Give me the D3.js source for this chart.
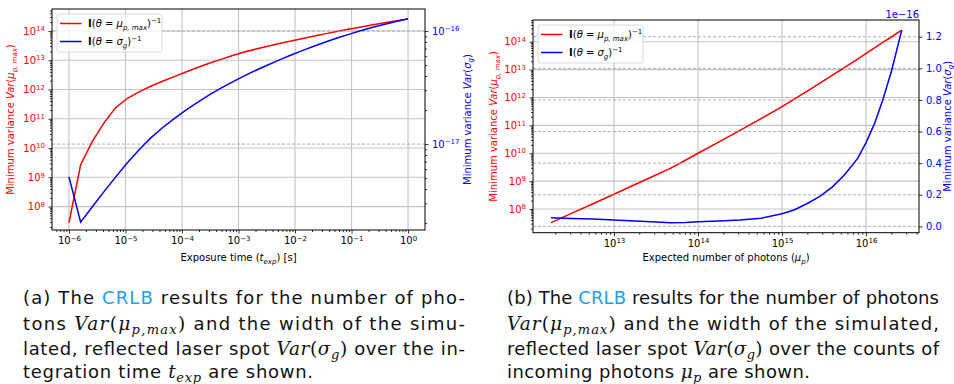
<!DOCTYPE html>
<html>
<head>
<meta charset="utf-8">
<style>
  body { margin: 0; background: #fff; }
  svg { display: block; font-family: "DejaVu Sans", sans-serif; }
  .domain { display: none; }
  .tick line { stroke: #000; stroke-width: 0.8; }
</style>
</head>
<body>
<svg width="954" height="384"></svg>

<script src="https://d3js.org/d3.v7.min.js"></script>
<script>

// ---- (a) sweep over the exposure time ----
const expTime = [1.000e-6, 1.610e-6, 2.593e-6, 4.175e-6, 6.723e-6, 1.083e-5, 1.743e-5, 2.807e-5,
  4.520e-5, 7.279e-5, 1.172e-4, 1.887e-4, 3.039e-4, 4.894e-4, 7.880e-4, 1.269e-3, 2.043e-3,
  3.290e-3, 5.298e-3, 8.532e-3, 1.374e-2, 2.212e-2, 3.562e-2, 5.736e-2, 9.237e-2, 0.1487,
  0.2395, 0.3857, 0.6210, 1.0];
const varMuTime = [2.82e7, 2.69e9, 1.70e10, 7.24e10, 2.40e11, 5.01e11, 8.32e11, 1.29e12,
  1.905e12, 2.75e12, 3.98e12, 5.62e12, 7.85e12, 1.07e13, 1.445e13, 1.905e13, 2.40e13, 3.00e13,
  3.715e13, 4.56e13, 5.56e13, 6.73e13, 8.11e13, 9.70e13, 1.156e14, 1.371e14, 1.618e14, 1.901e14,
  2.223e14, 2.588e14];
const varSigmaTime = [5.13e-18, 2.04e-18, 2.79e-18, 3.80e-18, 5.13e-18, 6.84e-18, 8.91e-18,
  1.135e-17, 1.396e-17, 1.679e-17, 1.995e-17, 2.344e-17, 2.723e-17, 3.126e-17, 3.548e-17,
  4.009e-17, 4.498e-17, 5.012e-17, 5.559e-17, 6.138e-17, 6.745e-17, 7.379e-17, 8.035e-17,
  8.710e-17, 9.397e-17, 1.0093e-16, 1.0789e-16, 1.148e-16, 1.216e-16, 1.282e-16];

// ---- (b) sweep over the number of photons ----
const photons = [1.78e12, 3.16e12, 5.62e12, 1e13, 1.78e13, 3.16e13, 4.68e13, 7.08e13, 1e14,
  1.78e14, 3.16e14, 5.62e14, 1e15, 1.41e15, 2.0e15, 2.82e15, 3.98e15, 5.62e15, 7.94e15, 1e16,
  1.26e16, 1.58e16, 2.0e16, 2.66e16];
const varMuPhot = [3.24e7, 7.08e7, 1.55e8, 3.39e8, 7.59e8, 1.66e9, 2.88e9, 5.62e9, 1.0e10,
  2.57e10, 6.61e10, 1.74e11, 4.68e11, 8.91e11, 1.70e12, 3.31e12, 6.31e12, 1.23e13, 2.40e13,
  3.80e13, 6.03e13, 9.55e13, 1.48e14, 2.63e14];
const varSigmaPhot = [5.4e-18, 5.0e-18, 4.6e-18, 4.0e-18, 3.4e-18, 2.8e-18, 2.3e-18, 2.5e-18,
  2.9e-18, 3.4e-18, 4.0e-18, 5.2e-18, 8.0e-18, 1.05e-17, 1.45e-17, 1.9e-17, 2.5e-17, 3.3e-17,
  4.3e-17, 5.3e-17, 6.5e-17, 8.0e-17, 9.8e-17, 1.242e-16];

// tick values
const timeTicks = [1e-6, 1e-5, 1e-4, 1e-3, 1e-2, 1e-1, 1];
const muTicks = [1e8, 1e9, 1e10, 1e11, 1e12, 1e13, 1e14];
const sigmaTimeTicks = [1e-17, 1e-16];
const photonTicks = [1e13, 1e14, 1e15, 1e16];
const sigmaPhotTicks = [0, 0.2e-16, 0.4e-16, 0.6e-16, 0.8e-16, 1.0e-16, 1.2e-16];

const svg = d3.select("svg");
const RED = "#ff0000", BLUE = "#0000ff";

// minor ticks 2..9 x 10^k inside a log domain
function logMinors(scale) {
  const [a, b] = scale.domain();
  const out = [];
  for (let k = Math.floor(Math.log10(a)); k <= Math.ceil(Math.log10(b)); k++) {
    for (let m = 2; m <= 9; m++) {
      const v = m * Math.pow(10, k);
      if (v >= a && v <= b) out.push(v);
    }
  }
  return out;
}

// "10" with a raised exponent
function powLabels(sel) {
  sel.each(function (d) {
    const t = d3.select(this);
    const e = Math.round(Math.log10(d));
    t.text(null);
    t.append("tspan").text("10");
    t.append("tspan").attr("dy", "-0.5em").attr("font-size", "7px")
      .text(String(e).replace("-", "\u2212"));
  });
}

// text made of pieces (sub/superscripts, italics, colours)
function rich(sel, segs) {
  let shift = 0;
  segs.forEach(s => {
    const ts = sel.append("tspan").text(s.t);
    const target = s.dy || 0;
    if (target !== shift) { ts.attr("dy", target - shift); shift = target; }
    if (s.size) ts.attr("font-size", s.size);
    if (s.it) ts.attr("font-style", "italic");
    if (s.bold) ts.attr("font-weight", "bold");
    if (s.fill) ts.attr("fill", s.fill);
    if (s.fam) ts.attr("font-family", s.fam);
  });
  return sel;
}

function axisStyle(g, color) {
  g.attr("font-family", "DejaVu Sans").attr("font-size", 10);
  g.selectAll("text").attr("fill", color);
}

function varMuLabel() {
  return [{ t: "Minimum variance " }, { t: "Var", it: true }, { t: "(" }, { t: "μ", it: true },
    { t: "p, max", it: true, size: "7px", dy: 2.5 }, { t: ")" }];
}
function varSigLabel() {
  return [{ t: "Minimum variance " }, { t: "Var", it: true }, { t: "(" }, { t: "σ", it: true },
    { t: "g", it: true, size: "7px", dy: 2.5 }, { t: ")" }];
}

function panel(p) {
  const g = svg.append("g");
  const { x, yL, yR, box } = p;

  // grid: solid for the left axis, dashed for the twin axis
  g.append("g").selectAll("line").data(p.xTicks).join("line")
    .attr("x1", d => x(d)).attr("x2", d => x(d)).attr("y1", box.y0).attr("y2", box.y1)
    .attr("stroke", "#c4c4c4").attr("stroke-width", 1.1);
  g.append("g").selectAll("line").data(p.yLTicks).join("line")
    .attr("x1", box.x0).attr("x2", box.x1).attr("y1", d => yL(d)).attr("y2", d => yL(d))
    .attr("stroke", "#c4c4c4").attr("stroke-width", 1.1);

  g.append("path").datum(p.xs.map((d, i) => [d, p.red[i]]))
    .attr("fill", "none").attr("stroke", RED).attr("stroke-width", 1.5)
    .attr("d", d3.line().x(d => x(d[0])).y(d => yL(d[1])));

  g.append("g").selectAll("line").data(p.yRTicks).join("line")
    .attr("x1", box.x0).attr("x2", box.x1).attr("y1", d => yR(d)).attr("y2", d => yR(d))
    .attr("stroke", "#a8a8a8").attr("stroke-width", 0.9).attr("stroke-dasharray", "3,2");

  g.append("path").datum(p.xs.map((d, i) => [d, p.blue[i]]))
    .attr("fill", "none").attr("stroke", BLUE).attr("stroke-width", 1.5)
    .attr("d", d3.line().x(d => x(d[0])).y(d => yR(d[1])));

  // frame
  g.append("rect").attr("x", box.x0).attr("y", box.y0)
    .attr("width", box.x1 - box.x0).attr("height", box.y1 - box.y0)
    .attr("fill", "none").attr("stroke", "#000").attr("stroke-width", 1);

  // bottom axis
  const bx = g.append("g").attr("transform", `translate(0,${box.y1})`)
    .call(d3.axisBottom(x).tickValues(p.xTicks).tickSize(3.5).tickPadding(3.5));
  axisStyle(bx, "#000");
  powLabels(bx.selectAll("text"));
  g.append("g").attr("transform", `translate(0,${box.y1})`)
    .call(d3.axisBottom(x).tickValues(logMinors(x)).tickSize(2).tickFormat(""));

  // left axis (red)
  const lx = g.append("g").attr("transform", `translate(${box.x0},0)`)
    .call(d3.axisLeft(yL).tickValues(p.yLTicks).tickSize(3.5).tickPadding(3.5));
  axisStyle(lx, RED);
  powLabels(lx.selectAll("text"));
  g.append("g").attr("transform", `translate(${box.x0},0)`)
    .call(d3.axisLeft(yL).tickValues(logMinors(yL)).tickSize(2).tickFormat(""));

  // right axis (blue)
  const rAxis = d3.axisRight(yR).tickValues(p.yRTicks).tickSize(3.5).tickPadding(3.5);
  if (p.rightLinear) rAxis.tickFormat(d => d3.format(".1f")(d / 1e-16));
  const rx = g.append("g").attr("transform", `translate(${box.x1},0)`).call(rAxis);
  axisStyle(rx, BLUE);
  if (!p.rightLinear) {
    powLabels(rx.selectAll("text"));
    g.append("g").attr("transform", `translate(${box.x1},0)`)
      .call(d3.axisRight(yR).tickValues(logMinors(yR)).tickSize(2).tickFormat(""));
  } else {
    g.append("text").attr("x", box.x1).attr("y", box.y0 - 2.5).attr("text-anchor", "end")
      .attr("font-size", 10).attr("fill", BLUE).text("1e\u221216");
  }

  // axis titles
  const cy = (box.y0 + box.y1) / 2;
  rich(g.append("text").attr("font-size", 10).attr("text-anchor", "middle")
    .attr("x", (box.x0 + box.x1) / 2).attr("y", 261), p.xTitle);
  rich(g.append("text").attr("font-size", 10).attr("text-anchor", "middle").attr("fill", RED)
    .attr("transform", `translate(${p.lTitleX},${cy}) rotate(-90)`), varMuLabel());
  rich(g.append("text").attr("font-size", 10).attr("text-anchor", "middle").attr("fill", BLUE)
    .attr("transform", `translate(${p.rTitleX},${cy}) rotate(-90)`), varSigLabel());

  // legend
  const lg = g.append("g").attr("transform", `translate(${p.leg[0]},${p.leg[1]})`);
  lg.append("rect").attr("width", 105).attr("height", 38).attr("rx", 2)
    .attr("fill", "#fff").attr("fill-opacity", 0.85).attr("stroke", "#d0d0d0").attr("stroke-width", 0.8);
  const items = [
    { c: RED, s: [{ t: "I", bold: true }, { t: "(" }, { t: "θ", it: true }, { t: " = " }, { t: "μ", it: true },
      { t: "p, max", it: true, size: "7px", dy: 2.5 }, { t: ")" }, { t: "\u22121", size: "7px", dy: -4 }] },
    { c: BLUE, s: [{ t: "I", bold: true }, { t: "(" }, { t: "θ", it: true }, { t: " = " }, { t: "σ", it: true },
      { t: "g", it: true, size: "7px", dy: 2.5 }, { t: ")" }, { t: "\u22121", size: "7px", dy: -4 }] }
  ];
  items.forEach((it, i) => {
    const yy = 9.5 + i * 18;
    lg.append("line").attr("x1", 3).attr("x2", 24.5).attr("y1", yy).attr("y2", yy)
      .attr("stroke", it.c).attr("stroke-width", 1.5);
    rich(lg.append("text").attr("x", 31).attr("y", yy + 3.5).attr("font-size", 10), it.s);
  });
}

// ---------- panel (a) ----------
const boxA = { x0: 52, x1: 425, y0: 9, y1: 230 };
panel({
  box: boxA,
  x: d3.scaleLog().domain([Math.pow(10, -6.3), Math.pow(10, 0.3)]).range([boxA.x0, boxA.x1]),
  yL: d3.scaleLog().domain([Math.pow(10, 7.2), Math.pow(10, 14.75)]).range([boxA.y1, boxA.y0]),
  yR: d3.scaleLog().domain([Math.pow(10, -17.76), Math.pow(10, -15.805)]).range([boxA.y1, boxA.y0]),
  xs: expTime, red: varMuTime, blue: varSigmaTime,
  xTicks: timeTicks, yLTicks: muTicks, yRTicks: sigmaTimeTicks,
  xTitle: [{ t: "Exposure time (" }, { t: "t", it: true }, { t: "exp", it: true, size: "7px", dy: 2.5 }, { t: ") [s]" }],
  lTitleX: 14, rTitleX: 470.5, leg: [57, 14]
});

// ---------- panel (b) ----------
const boxB = { x0: 533, x1: 919, y0: 20, y1: 232.7 };
panel({
  box: boxB,
  x: d3.scaleLog().domain([Math.pow(10, 12.036), Math.pow(10, 16.63)]).range([boxB.x0, boxB.x1]),
  yL: d3.scaleLog().domain([Math.pow(10, 7.15), Math.pow(10, 14.78)]).range([boxB.y1, boxB.y0]),
  yR: d3.scaleLinear().domain([-0.04e-16, 1.306e-16]).range([boxB.y1, boxB.y0]),
  rightLinear: true,
  xs: photons, red: varMuPhot, blue: varSigmaPhot,
  xTicks: photonTicks, yLTicks: muTicks, yRTicks: sigmaPhotTicks,
  xTitle: [{ t: "Expected number of photons (" }, { t: "μ", it: true }, { t: "p", it: true, size: "7px", dy: 2.5 }, { t: ")" }],
  lTitleX: 497, rTitleX: 950.5, leg: [538, 25]
});

// ---------- captions ----------
const CAP = "#1da1e6";
const MF = "DejaVu Serif";
const m = (t, it) => ({ t, it, fam: MF, size: "18.5px" });
const ms = t => ({ t, it: true, fam: MF, size: "13px", dy: 4 });

const captionA = [
  [{ t: "(a) The " }, { t: "CRLB", fill: CAP }, { t: " results for the number of pho-" }],
  [{ t: "tons " }, m("Var", true), m("("), m("μ", true), ms("p,max"), m(")"), { t: " and the width of the simu-" }],
  [{ t: "lated, reflected laser spot " }, m("Var", true), m("("), m("σ", true), ms("g"), m(")"), { t: " over the in-" }],
  [{ t: "tegration time " }, m("t", true), ms("exp"), { t: " are shown." }]
];
const captionB = [
  [{ t: "(b) The " }, { t: "CRLB", fill: CAP }, { t: " results for the number of photons" }],
  [m("Var", true), m("("), m("μ", true), ms("p,max"), m(")"), { t: " and the width of the simulated," }],
  [{ t: "reflected laser spot " }, m("Var", true), m("("), m("σ", true), ms("g"), m(")"), { t: " over the counts of" }],
  [{ t: "incoming photons " }, m("μ", true), ms("p"), { t: " are shown." }]
];
const capBase = [304, 330, 355, 378];

function caption(lines, x0, fullW, lastW) {
  lines.forEach((segs, i) => {
    const t = svg.append("text").attr("x", x0).attr("y", capBase[i])
      .attr("font-size", "18px").attr("fill", "#111")
      .attr("textLength", i < 3 ? fullW : lastW).attr("lengthAdjust", "spacing");
    rich(t, segs);
  });
}
caption(captionA, 23, 442, 290);
caption(captionB, 507, 432, 303);

</script>
</body>
</html>
